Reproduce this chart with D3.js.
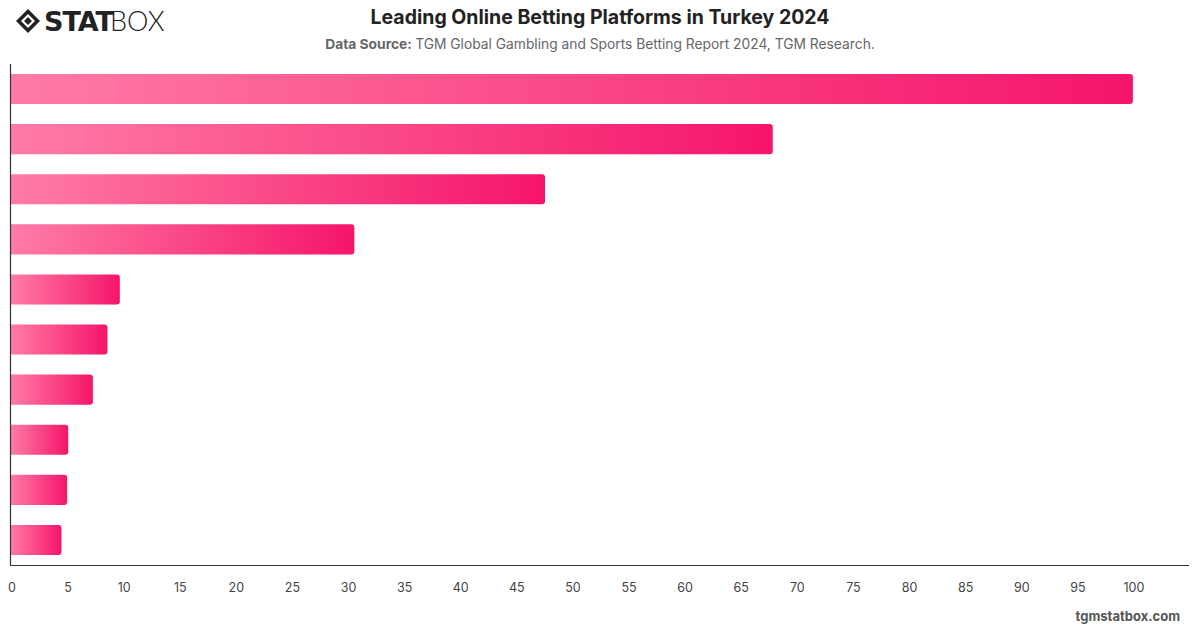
<!DOCTYPE html>
<html><head><meta charset="utf-8">
<script src="https://cdn.jsdelivr.net/npm/d3@7"></script>
<style>body{margin:0;background:#fff;font-family:Inter,"Helvetica Neue",Arial,sans-serif}</style>
</head><body>
<svg id="c" width="1200" height="628"></svg>
<script>
const categories = ["Platform 1","Platform 2","Platform 3","Platform 4","Platform 5","Platform 6","Platform 7","Platform 8","Platform 9","Platform 10"];
const values = [100, 67.9, 47.6, 30.6, 9.7, 8.6, 7.3, 5.1, 5.0, 4.5];
const tickValues = [0,5,10,15,20,25,30,35,40,45,50,55,60,65,70,75,80,85,90,95,100];

const svg = d3.select("#c");
const mLeft = 11, mRight = 1189, mTop = 64, mBottom = 565;
const x = d3.scaleLinear().domain([0, 105]).range([mLeft, mRight]);
const y = d3.scaleBand().domain(categories).range([mTop, mBottom]).paddingInner(0.4).paddingOuter(0.2);

const defs = svg.append("defs");
values.forEach((v,i)=>{
  const g = defs.append("linearGradient").attr("id","g"+i).attr("x1","0%").attr("x2","100%").attr("y1","0").attr("y2","0");
  g.append("stop").attr("offset","0%").attr("stop-color","#ff7ba6");
  g.append("stop").attr("offset","100%").attr("stop-color","#f5156a");
});

// Title
svg.append("text").attr("x",600).attr("y",24).attr("text-anchor","middle")
  .attr("font-size",19.5).attr("font-weight",700).attr("fill","#222").text("Leading Online Betting Platforms in Turkey 2024");
const sub = svg.append("text").attr("x",600).attr("y",49).attr("text-anchor","middle").attr("font-size",13.8).attr("fill","#666");
sub.append("tspan").attr("font-weight",700).text("Data Source: ");
sub.append("tspan").text("TGM Global Gambling and Sports Betting Report 2024, TGM Research.");

// Logo
const logo = svg.append("g").attr("transform","translate(28,21)");
logo.append("path").attr("d","M0,-12 L12,0 L0,12 L-12,0 Z").attr("fill","#222");
logo.append("path").attr("d","M0,-7 L7,0 L0,7 L-7,0 Z").attr("fill","#fff");
logo.append("path").attr("d","M0,-4 L4,0 L0,4 L-4,0 Z").attr("fill","#222");
svg.append("text").attr("x",44).attr("y",31).attr("font-size",27).attr("font-weight",900)
  .attr("font-family","'DejaVu Sans',Arial,sans-serif").attr("fill","#222").attr("letter-spacing","-1")
  .text("STAT");
svg.append("text").attr("x",110).attr("y",31).attr("font-size",27).attr("font-weight",300)
  .attr("font-family","Lato,'Open Sans',sans-serif").attr("fill","#222")
  .text("BOX");

// Bars
const r = 3;
svg.append("g").selectAll("path").data(values).join("path")
  .attr("fill",(d,i)=>"url(#g"+i+")")
  .attr("d",(d,i)=>{
    const x0 = x(0), x1 = x(d), y0 = y(categories[i]), h = y.bandwidth();
    return `M${x0},${y0} H${x1-r} Q${x1},${y0} ${x1},${y0+r} V${y0+h-r} Q${x1},${y0+h} ${x1-r},${y0+h} H${x0} Z`;
  });

// Axes
svg.append("line").attr("x1",mLeft-0.5).attr("x2",mLeft-0.5).attr("y1",mTop).attr("y2",mBottom).attr("stroke","#333").attr("stroke-width",1.2);
svg.append("line").attr("x1",mLeft-1).attr("x2",mRight).attr("y1",mBottom+0.5).attr("y2",mBottom+0.5).attr("stroke","#333").attr("stroke-width",1.2);
svg.append("g").selectAll("text").data(tickValues).join("text")
  .attr("x",d=>x(d)+1).attr("y",592).attr("text-anchor","middle")
  .attr("font-size",12.5).attr("fill","#444").text(d=>d);

// Footer
svg.append("text").attr("x",1180).attr("y",621).attr("text-anchor","end")
  .attr("font-size",13).attr("font-weight",700).attr("fill","#555").text("tgmstatbox.com");
</script>
</body></html>
